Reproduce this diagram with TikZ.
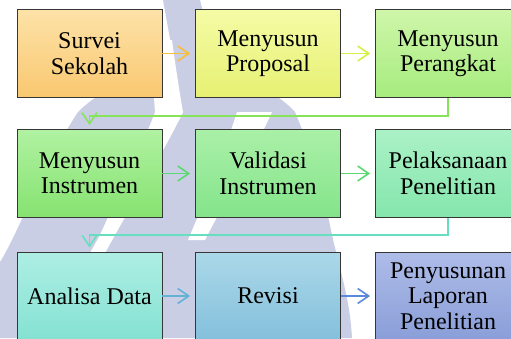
\documentclass[tikz,border=0pt]{standalone}
\usepackage{fontspec}
\setmainfont{Liberation Serif}
\usetikzlibrary{arrows.meta}
\definecolor{wm}{HTML}{CACEE4}
\definecolor{boxline}{HTML}{363636}
\definecolor{aT}{HTML}{FDE2A8}\definecolor{aB}{HTML}{F9C870}
\definecolor{bT}{HTML}{F5FBA6}\definecolor{bB}{HTML}{E6F172}
\definecolor{cT}{HTML}{CFF6AA}\definecolor{cB}{HTML}{A6EC7E}
\definecolor{dT}{HTML}{B0F2A2}\definecolor{dB}{HTML}{86E270}
\definecolor{eT}{HTML}{AAF0A8}\definecolor{eB}{HTML}{84E48A}
\definecolor{fT}{HTML}{ABF1C6}\definecolor{fB}{HTML}{84E6AC}
\definecolor{gT}{HTML}{AEEEE4}\definecolor{gB}{HTML}{84E2D2}
\definecolor{hT}{HTML}{ABD8E8}\definecolor{hB}{HTML}{84C0DC}
\definecolor{iT}{HTML}{AEBCE8}\definecolor{iB}{HTML}{8A9ED8}
\definecolor{a1}{HTML}{F6BE3A}
\definecolor{a2}{HTML}{D6EE48}
\definecolor{a3}{HTML}{86E45A}
\definecolor{a4}{HTML}{5CD872}
\definecolor{a5}{HTML}{66DEC0}
\definecolor{a6}{HTML}{62B2D8}
\definecolor{a7}{HTML}{5A88DA}
\begin{document}
\begin{tikzpicture}[x=1pt,y=-1pt,
  box/.style={draw=boxline, line width=0.8pt, minimum width=145pt, minimum height=88pt,
    inner sep=0pt, align=center, font=\fontsize{24}{25.5}\selectfont},
  conn/.style={line width=1.6pt, -{Straight Barb[length=11pt,width=15pt]}, shorten >=5pt}]
\useasboundingbox (0,0) rectangle (511,338);
\clip (0,0) rectangle (511,338);
% watermark
\fill[wm] (163,0) -- (200,0) -- (215,60) .. controls (250,80) and (280,95) .. (295,112)
  .. controls (315,160) and (325,200) .. (332,235) .. controls (340,270) and (350,300) .. (352,338)
  -- (0,338) -- (0,262) .. controls (20,230) and (40,170) .. (78,112)
  .. controls (110,80) and (160,70) .. (172,50) -- cycle;
\fill[white] (150,40) -- (172,40) .. controls (176,70) and (180,95) .. (183,112)
  .. controls (170,140) and (140,190) .. (115,235) -- (90,280) -- (75,280) -- (100,235)
  .. controls (120,190) and (145,140) .. (155,112) -- cycle;
\fill[white] (237,112) -- (272,112) .. controls (250,160) and (220,210) .. (205,240)
  -- (188,240) .. controls (205,200) and (225,150) .. (237,112) -- cycle;
% boxes
\node[box, top color=aT, bottom color=aB] (n1) at (89.5,53.5) {Survei\\Sekolah};
\node[box, top color=bT, bottom color=bB] (n2) at (268,53.5) {Menyusun\\Proposal};
\node[box, top color=cT, bottom color=cB] (n3) at (448,53.5) {Menyusun\\Perangkat};
\node[box, top color=dT, bottom color=dB] (n4) at (89.5,173.5) {Menyusun\\Instrumen};
\node[box, top color=eT, bottom color=eB] (n5) at (268,173.5) {Validasi\\Instrumen};
\node[box, top color=fT, bottom color=fB] (n6) at (448,173.5) {Pelaksanaan\\Penelitian};
\node[box, top color=gT, bottom color=gB] (n7) at (89.5,296) {Analisa Data};
\node[box, top color=hT, bottom color=hB] (n8) at (268,296) {Revisi};
\node[box, top color=iT, bottom color=iB] (n9) at (448,296) {Penyusunan\\Laporan\\Penelitian};
% connectors
\draw[conn, a1] (n1.east) -- (n2.west);
\draw[conn, a2] (n2.east) -- (n3.west);
\draw[conn, a3, shorten >=4pt] (n3.south) -- ++(0,18) -| (n4.north);
\draw[conn, a4] (n4.east) -- (n5.west);
\draw[conn, a4] (n5.east) -- (n6.west);
\draw[conn, a5, shorten >=4pt] (n6.south) -- ++(0,17) -| (n7.north);
\draw[conn, a6] (n7.east) -- (n8.west);
\draw[conn, a7] (n8.east) -- (n9.west);
\end{tikzpicture}
\end{document}
